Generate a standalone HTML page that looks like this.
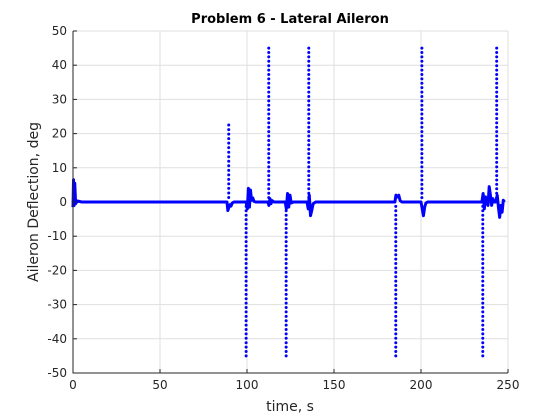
<!DOCTYPE html>
<html><head><meta charset="utf-8"><style>
body{margin:0;background:#fff;}
svg{display:block;font-family:"DejaVu Sans","Liberation Sans",sans-serif;}
</style></head><body>
<svg id="chart" width="560" height="420">
<rect x="0" y="0" width="560" height="420" fill="#fff"/>
<rect x="73" y="31" width="435" height="342" fill="#fff"/>
<g id="grid"></g>
<g id="series"></g>
<g id="axes"></g>
<text x="290" y="23" text-anchor="middle" font-size="13" font-weight="bold" fill="#000">Problem 6 - Lateral Aileron</text>
<text x="290" y="411" text-anchor="middle" font-size="14" fill="#262626">time, s</text>
<text transform="translate(38,202) rotate(-90)" text-anchor="middle" font-size="14" fill="#262626">Aileron Deflection, deg</text>
</svg>
<script>
const xTicks=[0,50,100,150,200,250];
const yTicks=[-50,-40,-30,-20,-10,0,10,20,30,40,50];
// baseline time history (t, deg)
const lineT=[0,0.3,0.6,1,1.5,2.5,5,88.5,89,89.6,90.2,90.8,91.5,92.5,99.5,100.2,100.8,101.4,102,102.6,103.3,104,105,112,112.6,113.2,113.8,114.5,115.5,122,122.6,123.3,124,124.7,125.4,126.5,134.5,135.2,135.8,136.5,137.2,138,139.5,185,185.6,186.4,187.2,188,189,200,200.7,201.4,202.1,202.8,203.8,235,235.7,236.4,237.1,237.8,238.5,239.2,239.9,240.6,241.3,242,243,243.8,244.5,245.2,245.9,246.6,247.3,248];
const lineV=[-1.5,6.5,-1,5.5,-0.5,0.3,0,0,-2.5,-1.5,-0.8,-1.2,-0.3,0,0,-2,4,-1.5,3.5,0.5,1.2,0.2,0,0,-1,1,-0.5,0.4,0,0,-2,2.5,-1.5,2,-0.3,0,0,-2,2,-4,-2.5,-0.5,0,0,2,1.5,2,0.4,0,0,-2,-4,-1.5,-0.3,0,0,2.5,-2,1.5,0,-1,4.5,2,-1,1,0,0,2,-1.5,-4.5,-1,-3,0.5,0];
// spikes (vertical dotted transients)
const spikeT=[89.5,99.5,112.5,122.5,135.5,185.5,200.5,235.5,243.5];
const spikePeak=[22.5,-45,45,-45,45,-45,45,-45,45];

const NS="http://www.w3.org/2000/svg";
const X0=73,X1=508,Y0=373,Y1=31;
const xs=t=>X0+(t-0)/(250-0)*(X1-X0);
const ys=v=>Y0-(v+50)/100*(Y0-Y1);
function mk(tag,attrs,parent){const e=document.createElementNS(NS,tag);for(const k in attrs)e.setAttribute(k,attrs[k]);parent.appendChild(e);return e;}
const grid=document.getElementById('grid'),axes=document.getElementById('axes'),ser=document.getElementById('series');
xTicks.forEach(t=>{
  const l=mk('line',{x1:xs(t),x2:xs(t),y1:Y1,y2:Y0,stroke:'#dfdfdf','stroke-width':1},grid);
  
  
  const tk=mk('line',{x1:xs(t),x2:xs(t),y1:Y0,y2:Y0-4,stroke:'#262626'},axes);
  
  
  const tx=mk('text',{x:xs(t),y:Y0+16,'text-anchor':'middle','font-size':12,fill:'#262626'},axes);
  tx.textContent=t;
  
  
});
yTicks.forEach(v=>{
  const l=mk('line',{x1:X0,x2:X1,y1:ys(v),y2:ys(v),stroke:'#dfdfdf','stroke-width':1},grid);
  
  
  const tk=mk('line',{x1:X0,x2:X0+4,y1:ys(v),y2:ys(v),stroke:'#262626'},axes);
  
  
  const tx=mk('text',{x:X0-6,y:ys(v)+4,'text-anchor':'end','font-size':12,fill:'#262626'},axes);
  tx.textContent=v;
  
  
});
const ax=mk('path',{d:`M${X0},${Y1}V${Y0}H${X1}`,fill:'none',stroke:'#262626','stroke-width':1},axes);


const pl=mk('polyline',{points:lineT.map((t,i)=>xs(t)+','+ys(lineV[i])).join(' '),fill:'none',stroke:'#0000ff','stroke-width':3,'stroke-linejoin':'round'},ser);


spikeT.forEach((t,i)=>{
  const g=mk('g',{fill:'#0000ff'},ser);
  
  
  const p=spikePeak[i],n=Math.round(Math.abs(p)/1.3);
  for(let k=1;k<=n;k++){
    const v=p*k/n;
    const c=mk('circle',{cx:xs(t),cy:ys(v),r:1.5},g);
    
    
  }
});
</script>
</body></html>
